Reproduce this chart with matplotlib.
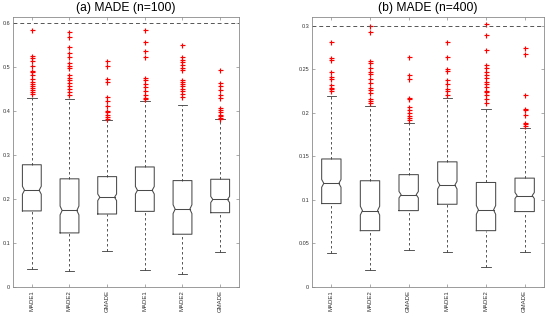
import numpy as np
import matplotlib
matplotlib.use("Agg")
import matplotlib.pyplot as plt

plt.rcParams['font.family'] = ['Liberation Sans', 'DejaVu Sans']

labels = ['MADE1', 'MADE2', 'GMADE', 'MADE1', 'MADE2', 'GMADE']

# panel (a) n=100
a_q1 = [0.173, 0.123, 0.166, 0.172, 0.120, 0.169]
a_med = [0.220, 0.174, 0.204, 0.220, 0.177, 0.199]
a_q3 = [0.278, 0.246, 0.251, 0.273, 0.242, 0.245]
a_lo = [0.041, 0.036, 0.082, 0.039, 0.030, 0.080]
a_hi = [0.430, 0.428, 0.379, 0.424, 0.413, 0.381]
a_notch = [0.009, 0.010, 0.0075, 0.0085, 0.010, 0.007]
a_fliers = [
    [0.585, 0.526, 0.520, 0.514, 0.503, 0.492, 0.489, 0.482, 0.474, 0.467,
     0.461, 0.456, 0.453, 0.448, 0.443, 0.438],
    [0.581, 0.568, 0.545, 0.532, 0.522, 0.510, 0.503, 0.498, 0.483, 0.475,
     0.470, 0.464, 0.456, 0.450, 0.443, 0.437],
    [0.514, 0.503, 0.472, 0.466, 0.431, 0.422, 0.412, 0.401, 0.398, 0.391,
     0.386, 0.382],
    [0.585, 0.557, 0.536, 0.524, 0.475, 0.470, 0.462, 0.455, 0.445, 0.437,
     0.430, 0.427],
    [0.551, 0.522, 0.517, 0.511, 0.505, 0.498, 0.493, 0.471, 0.467, 0.462,
     0.456, 0.451, 0.445, 0.439, 0.432],
    [0.494, 0.464, 0.456, 0.448, 0.436, 0.430, 0.407, 0.402, 0.397, 0.392,
     0.388, 0.385, 0.383],
]

# panel (b) n=400
b_q1 = [0.0958, 0.0647, 0.0877, 0.095, 0.0647, 0.0866]
b_med = [0.119, 0.0877, 0.106, 0.117, 0.0885, 0.105]
b_q3 = [0.147, 0.122, 0.129, 0.1437, 0.120, 0.125]
b_lo = [0.039, 0.0195, 0.042, 0.040, 0.0233, 0.040]
b_hi = [0.219, 0.208, 0.188, 0.217, 0.204, 0.182]
b_notch = [0.0045, 0.005, 0.0037, 0.0044, 0.005, 0.0035]
b_fliers = [
    [0.2816, 0.2624, 0.2601, 0.2471, 0.2414, 0.2383, 0.2314, 0.2287, 0.2268,
     0.2249],
    [0.2997, 0.2931, 0.2594, 0.2567, 0.2509, 0.2471, 0.2441, 0.2383, 0.2337,
     0.2287, 0.2261, 0.2230, 0.2153, 0.2134, 0.2115],
    [0.2644, 0.2433, 0.2383, 0.2172, 0.2161, 0.2066, 0.2031, 0.2000, 0.1969,
     0.1943, 0.1923],
    [0.2813, 0.2640, 0.2498, 0.2480, 0.2376, 0.2326, 0.2268, 0.2249, 0.2210],
    [0.3023, 0.2893, 0.2720, 0.2548, 0.2509, 0.2468, 0.2433, 0.2394, 0.2356,
     0.2325, 0.2295, 0.2256, 0.2241, 0.2199, 0.2153, 0.2115],
    [0.2739, 0.2678, 0.2210, 0.2046, 0.2031, 0.1980, 0.1885, 0.1866, 0.1847],
]

box_c = '#4a4a4a'
whisk_c = '#3a3a3a'
spine_c = '#8a8a8a'


def draw_panel(ax, q1, med, q3, lo, hi, notch, fliers, ref, ylim, yticks,
               yticklabels, title):
    w = 0.5
    ins = 0.11
    for i in range(len(q1)):
        x = i + 1
        l, r = x - w / 2, x + w / 2
        li, ri = l + w * ins, r - w * ins
        xs = [l, l, li, l, l, r, r, ri, r, r, l]
        ys = [q1[i], med[i] - notch[i], med[i], med[i] + notch[i], q3[i],
              q3[i], med[i] + notch[i], med[i], med[i] - notch[i], q1[i], q1[i]]
        ax.plot(xs, ys, color=box_c, lw=0.75)
        ax.plot([li, ri], [med[i], med[i]], color=box_c, lw=0.75)
        ax.plot([x, x], [q3[i], hi[i]], color=whisk_c, lw=0.6,
                dashes=(3, 3))
        ax.plot([x, x], [lo[i], q1[i]], color=whisk_c, lw=0.6,
                dashes=(3, 3))
        ax.plot([x - 0.125, x + 0.125], [hi[i], hi[i]], color=whisk_c, lw=0.6)
        ax.plot([x - 0.125, x + 0.125], [lo[i], lo[i]], color=whisk_c, lw=0.6)
        ax.plot([x] * len(fliers[i]), fliers[i], linestyle='none',
                marker='+', color='#ff0000', ms=3.6, mew=0.85)
    ax.axhline(ref, color='#555555', lw=0.7, dashes=(4, 3))
    ax.set_xlim(0.5, 6.5)
    ax.set_ylim(*ylim)
    ax.set_xticks(range(1, 7))
    ax.set_xticklabels(labels, rotation=90, fontsize=4.3, color='#333333')
    ax.set_yticks(yticks)
    ax.set_yticklabels(yticklabels, fontsize=4, color='#333333')
    ax.tick_params(direction='in', length=2, width=0.5, color=spine_c,
                   top=True, right=True, pad=2)
    for s in ax.spines.values():
        s.set_color(spine_c)
        s.set_linewidth(0.6)
    ax.set_title(title, fontsize=8.7, pad=4)


fig = plt.figure(figsize=(5.5, 3.21), dpi=100)
ax1 = fig.add_axes([13 / 550, 34 / 321, 226 / 550, 270 / 321])
ax2 = fig.add_axes([312 / 550, 34 / 321, 232 / 550, 270 / 321])

draw_panel(ax1, a_q1, a_med, a_q3, a_lo, a_hi, a_notch, a_fliers, 0.6,
           (0, 0.614), [0, 0.1, 0.2, 0.3, 0.4, 0.5, 0.6],
           ['0', '0.1', '0.2', '0.3', '0.4', '0.5', '0.6'],
           '(a) MADE (n=100)')
draw_panel(ax2, b_q1, b_med, b_q3, b_lo, b_hi, b_notch, b_fliers, 0.3,
           (0, 0.310), [0, 0.05, 0.1, 0.15, 0.2, 0.25, 0.3],
           ['0', '0.05', '0.1', '0.15', '0.2', '0.25', '0.3'],
           '(b) MADE (n=400)')

fig.savefig('out.png', dpi=100)
